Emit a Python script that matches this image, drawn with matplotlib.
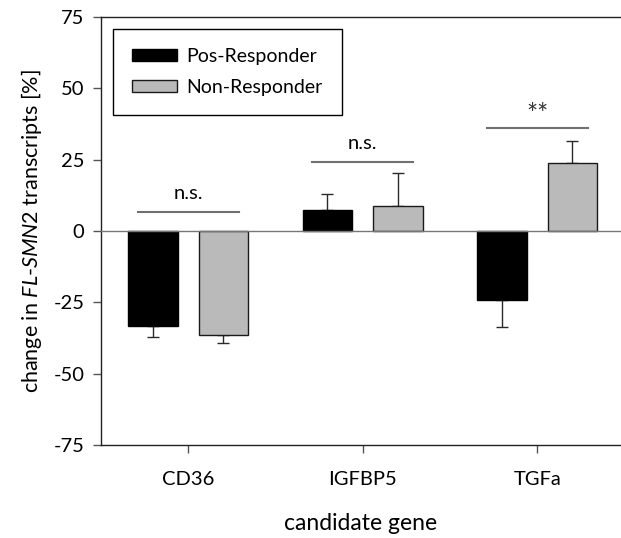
import numpy as np
import matplotlib
matplotlib.use("Agg")
import matplotlib.pyplot as plt

plt.rcParams['font.family'] = ['Lato', 'DejaVu Sans']
plt.rcParams['mathtext.fontset'] = 'custom'
plt.rcParams['mathtext.it'] = 'Lato:italic'
plt.rcParams['mathtext.rm'] = 'Lato'
plt.rcParams['axes.unicode_minus'] = False

# datos
genes = ['CD36', 'IGFBP5', 'TGFa']
pos_resp = [-33.3, 7.3, -24.3]
pos_err = [4.0, 5.5, 9.4]
non_resp = [-36.3, 8.8, 23.7]
non_err = [2.8, 11.6, 7.7]
sig_labels = ['n.s.', 'n.s.', '**']
sig_heights = [6.8, 24.1, 36.0]

x = np.arange(len(genes))
ancho = 0.285
desp = 0.202

fig = plt.figure(figsize=(6.21, 5.38), dpi=100)
ax = fig.add_axes([0.1626, 0.1729, 0.8374, 0.7955])

# barras
ax.bar(x - desp, pos_resp, ancho, color='black', edgecolor='black',
       linewidth=1, label='Pos-Responder', zorder=3)
ax.bar(x + desp, non_resp, ancho, color='#bababa', edgecolor='#1a1a1a',
       linewidth=1, label='Non-Responder', zorder=3)

# barras de error solo hacia fuera del cero
for xs, vals, errs in [(x - desp, pos_resp, pos_err), (x + desp, non_resp, non_err)]:
    for xi, v, e in zip(xs, vals, errs):
        if v < 0:
            yerr = [[e], [0]]
        else:
            yerr = [[0], [e]]
        ax.errorbar(xi, v, yerr=yerr, fmt='none', ecolor='#2a2a2a',
                    elinewidth=1, capsize=4, capthick=1, zorder=2)

# linea del cero
ax.axhline(0, color='#777777', linewidth=1, zorder=4)

# lineas de significancia
for xi, h, lab in zip(x, sig_heights, sig_labels):
    ax.plot([xi - 0.29, xi + 0.29], [h, h], color='#707070', linewidth=1.5)
    if lab == '**':
        ax.text(xi, h + 4.6, lab, ha='center', va='center', fontsize=19, color='#333333')
    else:
        ax.text(xi, h + 6.4, lab, ha='center', va='center', fontsize=14.5)

ax.set_xlim(-0.5, 2.48)
ax.set_ylim(-75, 75)
ax.set_yticks([-75, -50, -25, 0, 25, 50, 75])
ax.set_xticks(x)
ax.set_xticklabels(genes)

ax.spines['right'].set_visible(False)
for s in ['left', 'bottom', 'top']:
    ax.spines[s].set_linewidth(1)
    ax.spines[s].set_color('#222222')

ax.tick_params(axis='y', direction='out', length=6, width=1, color='#555555',
               labelsize=14.5, pad=6)
ax.tick_params(axis='x', direction='out', length=6, width=1, color='#555555',
               labelsize=14.5, pad=13)

ax.set_xlabel('candidate gene', fontsize=16.5, va='baseline')
ax.xaxis.set_label_coords(0.5, -0.1986)
ax.set_ylabel(r'change in $\it{FL}$-$\it{SMN2}$ transcripts [%]', fontsize=15.5)
ax.yaxis.set_label_coords(-0.11, 0.5)

leg = ax.legend(loc='upper left', bbox_to_anchor=(0.1815, 0.947),
                bbox_transform=fig.transFigure, fontsize=14,
                handlelength=2.3, handleheight=0.57, handletextpad=0.5,
                borderpad=1.0, labelspacing=0.7, borderaxespad=0,
                fancybox=False, framealpha=1, edgecolor='black')
leg.get_frame().set_linewidth(1)

fig.savefig('out.png', dpi=100)
